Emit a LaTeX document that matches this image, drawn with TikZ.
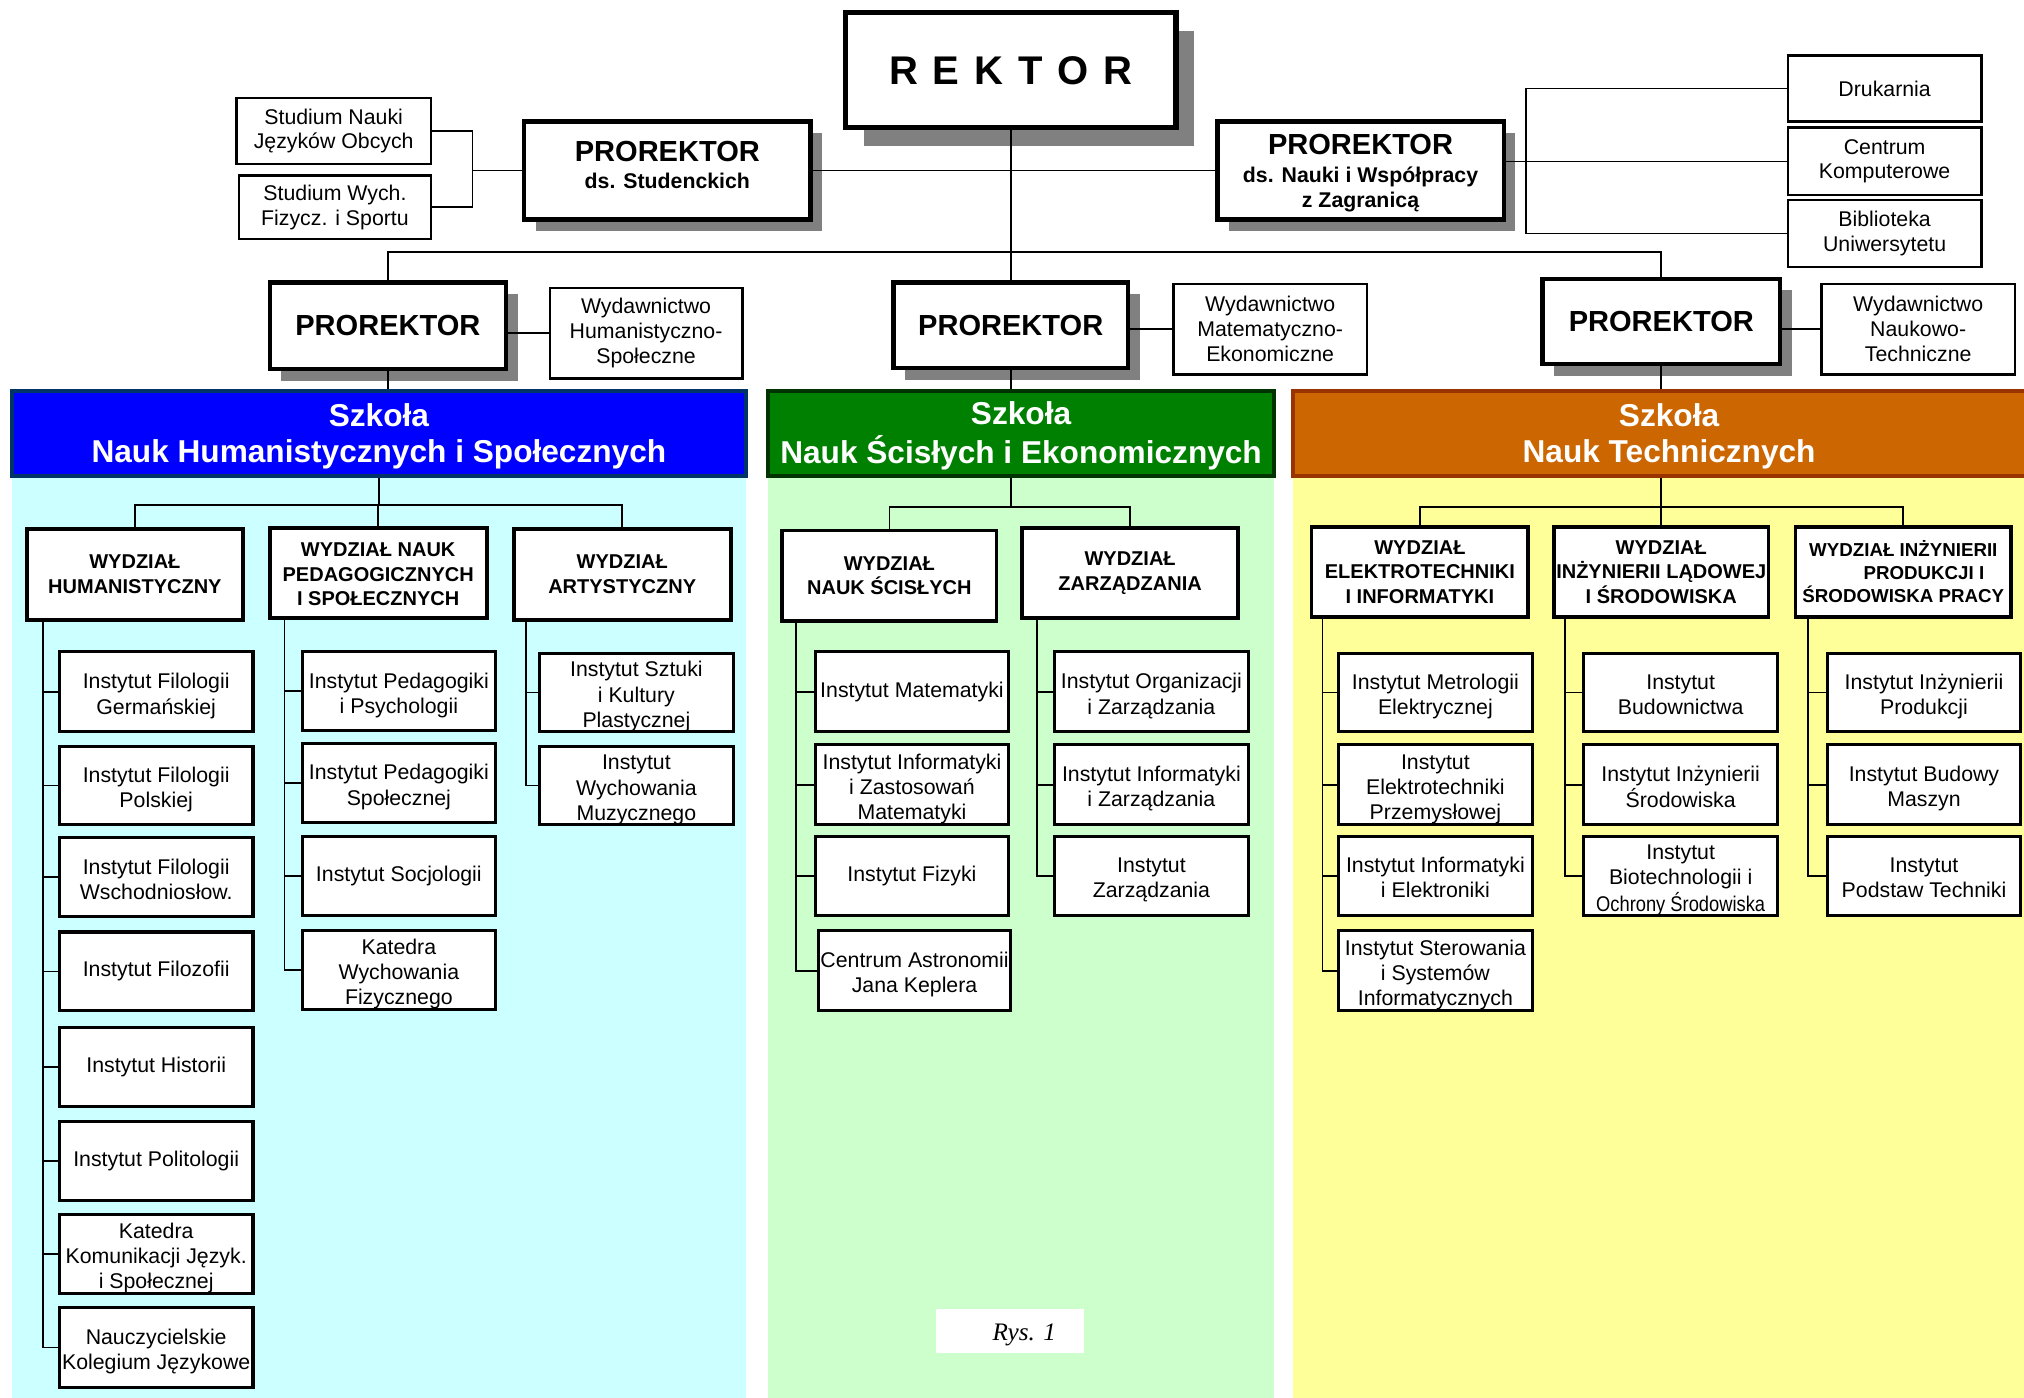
\documentclass[tikz,border=0pt]{standalone}
\usepackage{fontspec}
\setmainfont{Liberation Sans}
\newfontfamily\rysfont{Liberation Serif}
\usetikzlibrary{shadows}

\definecolor{humbg}{RGB}{204,255,255}
\definecolor{humhd}{RGB}{0,0,255}
\definecolor{humbd}{RGB}{0,51,102}
\definecolor{scibg}{RGB}{204,255,204}
\definecolor{scihd}{RGB}{0,128,0}
\definecolor{scibd}{RGB}{0,51,0}
\definecolor{tecbg}{RGB}{255,255,153}
\definecolor{techd}{RGB}{204,102,0}
\definecolor{tecbd}{RGB}{153,51,0}
\definecolor{shgray}{RGB}{128,128,128}

% box given by its corners (x1,y1) (x2,y2), y growing downwards
\newcommand{\orgbox}[7]{%
  \node[#2, minimum width={(#5)-(#3)}, minimum height={(#6)-(#4)}]
    (#1) at ({((#3)+(#5))/2},{((#4)+(#6))/2}) {#7};}
% centred lines of text, shifted down by #1 from the box centre
\newcommand{\lowlines}[2]{\raisebox{-#1}[\height][\depth]{\begin{tabular}{@{}c@{}}#2\end{tabular}}}
% institute box with several lines
\newcommand{\ibox}[6]{\orgbox{#1}{inst}{#2}{#3}{#4}{#5}{\lowlines{3.5pt}{#6}}}

\tikzset{
  conn/.style={line width=1.3pt},
  basebox/.style={draw, fill=white, align=center, inner sep=0pt},
  inst/.style={basebox, line width=2.4pt, font=\fontsize{16.5}{19.5}\selectfont},
  aux/.style={basebox, line width=2pt, font=\fontsize{16.5}{19.2}\selectfont},
  wydz/.style={basebox, line width=3pt, font=\fontsize{15.5}{19}\selectfont\bfseries},
  prorek/.style={basebox, line width=3.5pt,
    drop shadow={shadow xshift=9pt, shadow yshift=-9pt, fill=shgray, opacity=1},
    font=\fontsize{22.5}{23}\selectfont\bfseries},
  rektorbox/.style={basebox, line width=4pt,
    drop shadow={shadow xshift=14pt, shadow yshift=-14pt, fill=shgray, opacity=1},
    font=\fontsize{31}{31}\selectfont\bfseries},
  school/.style={line width=3pt, inner sep=0pt, text=white,
    font=\fontsize{24.5}{28}\selectfont\bfseries}
}

\newcommand{\dsl}[1]{{\fontsize{16.5}{20}\selectfont #1}}

\begin{document}
\begin{tikzpicture}[x=1pt, y=-1pt]
\useasboundingbox (0,0) rectangle (1568,1083);
\clip (0,0) rectangle (1568,1083);

% school areas
\fill[humbg] (9,369) rectangle (578,1083);
\fill[scibg] (595,369) rectangle (987,1083);
\fill[tecbg] (1002,369) rectangle (1568,1083);

% ---------- top level ----------
\orgbox{rektor}{rektorbox}{655}{10}{911}{99}{R\hspace{11.5pt}E\hspace{11.5pt}K\hspace{11.5pt}T\hspace{11.5pt}O\hspace{11.5pt}R}
\orgbox{ps}{prorek}{406}{94}{628}{170}{\lowlines{-1pt}{PROREKTOR\\[-2pt]\dsl{ds. Studenckich}}}
\orgbox{pn}{prorek}{943}{94}{1165}{170}{\lowlines{3.9pt}{PROREKTOR\\[-2pt]\dsl{ds. Nauki i Współpracy}\\[-3pt]\dsl{z Zagranicą}}}
\orgbox{sn}{aux}{183}{76}{334}{127}{Studium Nauki\\Języków Obcych}
\orgbox{sw}{aux}{185}{136}{334}{185}{Studium Wych.\\Fizycz. i Sportu}
\orgbox{dr}{aux}{1385}{43}{1535}{94}{Drukarnia}
\orgbox{ck}{aux}{1385}{99}{1535}{151}{Centrum\\Komputerowe}
\orgbox{bu}{aux}{1385}{155}{1535}{207}{Biblioteka\\Uniwersytetu}

\orgbox{pl}{prorek}{209}{219}{392}{286}{PROREKTOR}
\orgbox{pm}{prorek}{692}{219}{874}{285}{PROREKTOR}
\orgbox{pr}{prorek}{1195}{216}{1379}{282}{PROREKTOR}
\orgbox{wl}{aux}{426}{223}{575}{293}{Wydawnictwo\\Humanistyczno-\\Społeczne}
\orgbox{wm}{aux}{909}{220}{1059}{290}{Wydawnictwo\\Matematyczno-\\Ekonomiczne}
\orgbox{wr}{aux}{1411}{220}{1561}{290}{Wydawnictwo\\Naukowo-\\Techniczne}

\coordinate (jtop) at (783,195);
\coordinate (jst) at (366,132);
\coordinate (jsv) at (1182,132);

\draw[conn] (rektor.south) -- (pm.north);
\draw[conn] (ps.east) -- (pn.west);
\draw[conn] (pl.north) |- (jtop) -| (pr.north);
\draw[conn] (sn.east) -| (jst);
\draw[conn] (sw.east) -| (jst);
\draw[conn] (jst) -- (ps.west);
\draw[conn] (dr.west) -| (jsv);
\draw[conn] (bu.west) -| (jsv);
\draw[conn] (ck.west -| pn.east) -- (ck.west);
\draw[conn] (wl.west -| pl.east) -- (wl.west);
\draw[conn] (wm.west -| pm.east) -- (wm.west);
\draw[conn] (wr.west -| pr.east) -- (wr.west);

% ---------- school headers ----------
\orgbox{sh}{school,fill=humhd,draw=humbd}{9}{303}{578}{369}{\lowlines{2.5pt}{Szkoła\\Nauk Humanistycznych i Społecznych}}
\orgbox{sg}{school,fill=scihd,draw=scibd}{595}{303}{987}{369}{\lowlines{2.5pt}{Szkoła\\Nauk Ścisłych i Ekonomicznych}}
\orgbox{st}{school,fill=techd,draw=tecbd}{1002}{303}{1584}{369}{\lowlines{2.5pt}{Szkoła\\Nauk Technicznych}}

\draw[conn] (pl.south) -- (pl.south |- sh.north);
\draw[conn] (pm.south) -- (pm.south |- sg.north);
\draw[conn] (pr.south) -- (pr.south |- st.north);

% ---------- faculties ----------
\orgbox{wh}{wydz}{21}{410}{188}{480}{WYDZIAŁ\\HUMANISTYCZNY}
\orgbox{wp}{wydz}{209}{409}{377}{479}{\lowlines{2.5pt}{WYDZIAŁ NAUK\\PEDAGOGICZNYCH\\I SPOŁECZNYCH}}
\orgbox{wa}{wydz}{398}{410}{566}{480}{WYDZIAŁ\\ARTYSTYCZNY}
\orgbox{wn}{wydz}{606}{411}{772}{481}{WYDZIAŁ\\NAUK ŚCISŁYCH}
\orgbox{wz}{wydz}{792}{409}{959}{479}{WYDZIAŁ\\ZARZĄDZANIA}
\orgbox{we}{wydz}{1016}{408}{1184}{478}{WYDZIAŁ\\ELEKTROTECHNIKI\\I INFORMATYKI}
\orgbox{wi}{wydz}{1204}{408}{1370}{478}{WYDZIAŁ\\INŻYNIERII LĄDOWEJ\\I ŚRODOWISKA}
\orgbox{wo}{wydz,font=\fontsize{14.5}{18}\selectfont\bfseries}{1391}{408}{1558}{478}{WYDZIAŁ INŻYNIERII\\\hspace*{2.2em}PRODUKCJI I\\ŚRODOWISKA PRACY}

\coordinate (bh) at (293.5,391);
\coordinate (bg) at (783,393);
\coordinate (bt) at (1287,393);
\draw[conn] (sh.south) -- (bh);
\draw[conn] (wh.north) |- (bh) -| (wa.north);
\draw[conn] (wp.north) -- (wp.north |- bh);
\draw[conn] (sg.south -| bg) -- (bg);
\draw[conn] (wn.north) |- (bg) -| (wz.north);
\draw[conn] (st.south -| bt) -- (bt);
\draw[conn] (we.north) |- (bt) -| (wo.north);
\draw[conn] (wi.north) -- (wi.north |- bt);

% ---------- institutes: humanities ----------
\ibox{h1}{46}{505}{196}{567}{Instytut Filologii\\Germańskiej}
\ibox{h2}{46}{578}{196}{639}{Instytut Filologii\\Polskiej}
\ibox{h3}{46}{649}{196}{710}{Instytut Filologii\\Wschodniosłow.}
\orgbox{h4}{inst}{46}{722}{196}{783}{Instytut Filozofii}
\orgbox{h5}{inst}{46}{796}{196}{857}{Instytut Historii}
\orgbox{h6}{inst}{46}{869}{196}{930}{Instytut Politologii}
\ibox{h7}{46}{941}{196}{1002}{Katedra\\Komunikacji Język.\\i Społecznej}
\ibox{h8}{46}{1013}{196}{1075}{Nauczycielskie\\Kolegium Językowe}

\ibox{p1}{234}{505}{384}{566}{Instytut Pedagogiki\\i Psychologii}
\ibox{p2}{234}{576}{384}{637}{Instytut Pedagogiki\\Społecznej}
\orgbox{p3}{inst}{234}{648}{384}{709}{Instytut Socjologii}
\ibox{p4}{234}{721}{384}{782}{Katedra\\Wychowania\\Fizycznego}

\ibox{a1}{418}{506}{568}{567}{Instytut Sztuki\\i Kultury\\Plastycznej}
\ibox{a2}{418}{578}{568}{639}{Instytut\\Wychowania\\Muzycznego}

\foreach \n in {h1,h2,h3,h4,h5,h6,h7,h8}
  \draw[conn] (\n.west) -| ([xshift=14pt]wh.south west);
\foreach \n in {p1,p2,p3,p4}
  \draw[conn] (\n.west) -| ([xshift=13pt]wp.south west);
\foreach \n in {a1,a2}
  \draw[conn] (\n.west) -| ([xshift=11pt]wa.south west);

% ---------- institutes: sciences ----------
\orgbox{n1}{inst}{632}{505}{781}{567}{Instytut Matematyki}
\ibox{n2}{632}{577}{781}{639}{Instytut Informatyki\\i Zastosowań\\Matematyki}
\orgbox{n3}{inst}{632}{648}{781}{709}{Instytut Fizyki}
\ibox{n4}{634}{721}{783}{783}{Centrum Astronomii\\Jana Keplera}

\ibox{z1}{817}{505}{967}{567}{Instytut Organizacji\\i Zarządzania}
\ibox{z2}{817}{577}{967}{639}{Instytut Informatyki\\i Zarządzania}
\ibox{z3}{817}{648}{967}{709}{Instytut\\Zarządzania}

\foreach \n in {n1,n2,n3,n4}
  \draw[conn] (\n.west) -| ([xshift=12pt]wn.south west);
\foreach \n in {z1,z2,z3}
  \draw[conn] (\n.west) -| ([xshift=13pt]wz.south west);

\node[fill=white, minimum width=115, minimum height=34, inner sep=0pt,
      font=\rysfont\itshape\fontsize{19.5}{20}\selectfont]
  (rys) at (782.5,1031) {\raisebox{-3pt}[\height][\depth]{\hspace*{22pt}Rys. 1}};

% ---------- institutes: technology ----------
\ibox{e1}{1037}{506}{1187}{567}{Instytut Metrologii\\Elektrycznej}
\ibox{e2}{1037}{577}{1187}{639}{Instytut\\Elektrotechniki\\Przemysłowej}
\ibox{e3}{1037}{648}{1187}{709}{Instytut Informatyki\\i Elektroniki}
\ibox{e4}{1037}{721}{1187}{783}{Instytut Sterowania\\i Systemów\\Informatycznych}

\ibox{l1}{1227}{506}{1377}{567}{Instytut\\Budownictwa}
\ibox{l2}{1227}{577}{1377}{639}{Instytut Inżynierii\\Środowiska}
\ibox{l3}{1227}{648}{1377}{709}{Instytut\\Biotechnologii i\\\scalebox{0.86}[1]{Ochrony Środowiska}}

\ibox{r1}{1416}{506}{1565}{567}{Instytut Inżynierii\\Produkcji}
\ibox{r2}{1416}{577}{1565}{639}{Instytut Budowy\\Maszyn}
\ibox{r3}{1416}{648}{1565}{709}{Instytut\\Podstaw Techniki}

\foreach \n in {e1,e2,e3,e4}
  \draw[conn] (\n.west) -| ([xshift=10pt]we.south west);
\foreach \n in {l1,l2,l3}
  \draw[conn] (\n.west) -| ([xshift=10pt]wi.south west);
\foreach \n in {r1,r2,r3}
  \draw[conn] (\n.west) -| ([xshift=11pt]wo.south west);

\end{tikzpicture}
\end{document}
